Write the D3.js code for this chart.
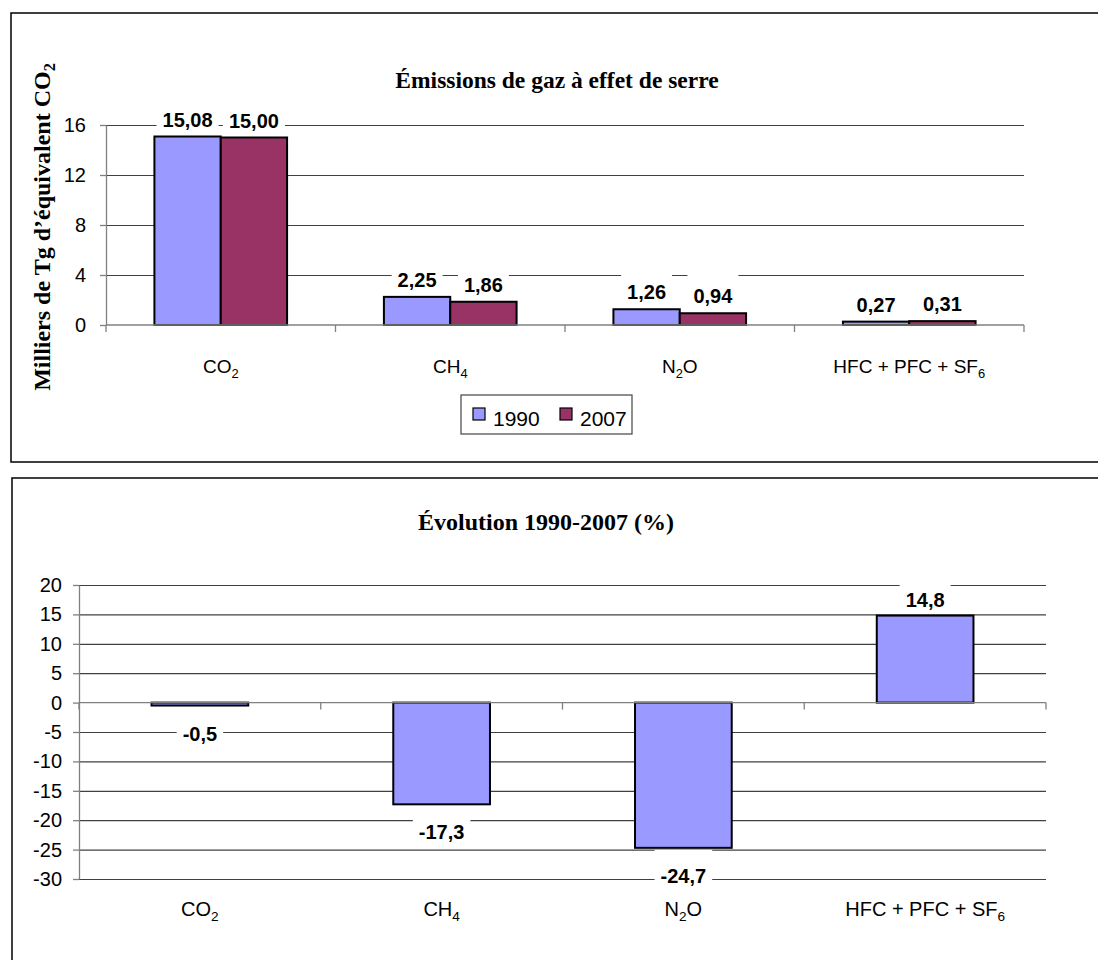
<!DOCTYPE html>
<html lang="fr">
<head>
  <meta charset="UTF-8">
  <script src="https://cdn.jsdelivr.net/npm/d3@7"></script>
  <style>
    body { margin: 0; background: #fff; }
  </style>
</head>
<body>

<div id="container"></div>
<script>

// Data
const categories = ["CO2", "CH4", "N2O", "HFC + PFC + SF6"];
const years = ["1990", "2007"];
const values1990 = [15.08, 2.25, 1.26, 0.27];
const values2007 = [15.00, 1.86, 0.94, 0.31];
const evolution = [-0.5, -17.3, -24.7, 14.8];
const topTicks = [0, 4, 8, 12, 16];
const bottomTicks = [-30, -25, -20, -15, -10, -5, 0, 5, 10, 15, 20];
const seriesColors = ["#9999ff", "#993366"];

const width = 1098;
const height = 960;
const sans = "'Liberation Sans', Arial, sans-serif";
const serif = "'Liberation Serif', 'Times New Roman', serif";
const gridColor = "#404040";
const axisColor = "#808080";

// french decimals
const fr = d3.formatLocale({decimal: ",", thousands: " ", grouping: [3], currency: ["", " €"], minus: "-"});
const fmt2 = fr.format(".2f");
const fmt1 = fr.format(".1f");

const svg = d3.select("#container").append("svg")
    .attr("width", width)
    .attr("height", height)
    .style("background", "#fff");

// writes "CO2" as CO + subscript 2
function chem(text, str) {
    const parts = str.split(/(\d+)/).filter(p => p !== "");
    let shifted = false;
    parts.forEach(p => {
        if (/^\d+$/.test(p)) {
            text.append("tspan").attr("font-size", "0.68em").attr("dy", 5).text(p);
            shifted = true;
        } else {
            text.append("tspan").attr("dy", shifted ? -5 : 0).text(p);
            shifted = false;
        }
    });
}

// value label with a white box behind it (masks the gridlines)
function valueLabel(boxes, labels, cx, baseline, txt, boxTop) {
    const t = labels.append("text")
        .attr("x", cx)
        .attr("y", baseline)
        .attr("text-anchor", "middle")
        .attr("font-family", sans)
        .attr("font-weight", "bold")
        .attr("font-size", 20)
        .attr("fill", "#000")
        .text(txt);
    const w = t.node().getComputedTextLength();
    boxes.append("rect")
        .attr("x", cx - w / 2 - 6)
        .attr("y", baseline - boxTop)
        .attr("width", w + 12)
        .attr("height", boxTop + 7)
        .attr("fill", "#fff");
}

function styleAxis(g) {
    g.select(".domain").attr("stroke", axisColor).attr("stroke-width", 1.3);
    g.selectAll(".tick line").attr("stroke", axisColor).attr("stroke-width", 1.3);
    g.selectAll(".tick text")
        .attr("font-family", sans)
        .attr("font-size", 20)
        .attr("fill", "#000");
}

// ---------- panels ----------
svg.append("rect")
    .attr("x", 11).attr("y", 13)
    .attr("width", 1100).attr("height", 449)
    .attr("fill", "none").attr("stroke", "#000").attr("stroke-width", 1.5);

svg.append("rect")
    .attr("x", 12).attr("y", 478)
    .attr("width", 1100).attr("height", 520)
    .attr("fill", "none").attr("stroke", "#000").attr("stroke-width", 1.5);

// ---------- top chart: emissions ----------
const x = d3.scaleBand().domain(categories).range([106, 1024]);
const xYear = d3.scaleBand().domain(years).range([0, x.bandwidth()]).paddingOuter(0.73);
const y = d3.scaleLinear().domain([0, 16]).range([325, 125]);

const topChart = svg.append("g");

// gridlines
topChart.append("g")
    .attr("transform", "translate(106,0)")
    .call(d3.axisLeft(y).tickValues(topTicks.filter(d => d !== 0)).tickSize(-(1024 - 106)).tickFormat(""))
    .call(g => g.select(".domain").remove())
    .call(g => g.selectAll(".tick line").attr("stroke", gridColor).attr("stroke-width", 1.2));

const topBoxes = topChart.append("g");
const topBars = topChart.append("g");
const topAxes = topChart.append("g");
const topLabels = topChart.append("g");

const topData = categories.map((c, i) => ({cat: c, vals: [values1990[i], values2007[i]]}));

topData.forEach(d => {
    d.vals.forEach((v, j) => {
        const bx = x(d.cat) + xYear(years[j]);
        topBars.append("rect")
            .attr("x", bx)
            .attr("y", y(v))
            .attr("width", xYear.bandwidth())
            .attr("height", y(0) - y(v))
            .attr("fill", seriesColors[j])
            .attr("stroke", "#000")
            .attr("stroke-width", 2);
        valueLabel(topBoxes, topLabels, bx + xYear.bandwidth() / 2, y(v) - 10, fmt2(v), 31);
    });
});

// y axis
topAxes.append("g")
    .attr("transform", "translate(106,0)")
    .call(d3.axisLeft(y).tickValues(topTicks).tickSize(6).tickSizeOuter(0).tickPadding(14).tickFormat(d => d))
    .call(styleAxis);

// x axis line with ticks between categories
topAxes.append("line")
    .attr("x1", 106).attr("x2", 1024)
    .attr("y1", y(0)).attr("y2", y(0))
    .attr("stroke", axisColor).attr("stroke-width", 1.3);
d3.range(categories.length + 1).forEach(i => {
    const tx = x.range()[0] + i * x.step();
    topAxes.append("line")
        .attr("x1", tx).attr("x2", tx)
        .attr("y1", y(0)).attr("y2", y(0) + 7)
        .attr("stroke", axisColor).attr("stroke-width", 1.3);
});

categories.forEach(c => {
    const t = topChart.append("text")
        .attr("x", x(c) + x.bandwidth() / 2)
        .attr("y", 373)
        .attr("text-anchor", "middle")
        .attr("font-family", sans)
        .attr("font-size", 19);
    chem(t, c);
});

topChart.append("text")
    .attr("x", 557).attr("y", 88)
    .attr("text-anchor", "middle")
    .attr("font-family", serif)
    .attr("font-weight", "bold")
    .attr("font-size", 23.5)
    .text("Émissions de gaz à effet de serre");

const yLab = topChart.append("text")
    .attr("transform", "translate(50,227) rotate(-90)")
    .attr("text-anchor", "middle")
    .attr("font-family", serif)
    .attr("font-weight", "bold")
    .attr("font-size", 24);
chem(yLab, "Milliers de Tg d’équivalent CO2");

// legend
const legend = topChart.append("g");
legend.append("rect")
    .attr("x", 461).attr("y", 395)
    .attr("width", 171).attr("height", 39)
    .attr("fill", "#fff").attr("stroke", "#444").attr("stroke-width", 1.2);
years.forEach((yr, j) => {
    const lx = [473, 560][j];
    legend.append("rect")
        .attr("x", lx).attr("y", 408)
        .attr("width", 12).attr("height", 12)
        .attr("fill", seriesColors[j]).attr("stroke", "#000").attr("stroke-width", 1.2);
    legend.append("text")
        .attr("x", lx + 20).attr("y", 426)
        .attr("font-family", sans)
        .attr("font-size", 21)
        .text(yr);
});

// ---------- bottom chart: evolution ----------
const xb = d3.scaleBand().domain(categories).range([79, 1046]).paddingInner(0.6).paddingOuter(0.3);
const yb = d3.scaleLinear().domain([-30, 20]).range([879, 585]);

const bottomChart = svg.append("g");

bottomChart.append("g")
    .attr("transform", "translate(79,0)")
    .call(d3.axisLeft(yb).tickValues(bottomTicks.filter(d => d !== 0)).tickSize(-(1046 - 79)).tickFormat(""))
    .call(g => g.select(".domain").remove())
    .call(g => g.selectAll(".tick line").attr("stroke", gridColor).attr("stroke-width", 1.2));

const botBoxes = bottomChart.append("g");
const botBars = bottomChart.append("g");
const botAxes = bottomChart.append("g");
const botLabels = bottomChart.append("g");

categories.forEach((c, i) => {
    const v = evolution[i];
    botBars.append("rect")
        .attr("x", xb(c))
        .attr("y", yb(Math.max(0, v)))
        .attr("width", xb.bandwidth())
        .attr("height", Math.abs(yb(v) - yb(0)))
        .attr("fill", seriesColors[0])
        .attr("stroke", "#000")
        .attr("stroke-width", 2);
    const base = v >= 0 ? yb(v) - 9 : yb(v) + 35;
    valueLabel(botBoxes, botLabels, xb(c) + xb.bandwidth() / 2, base, fmt1(v), 33);
});

botAxes.append("g")
    .attr("transform", "translate(79,0)")
    .call(d3.axisLeft(yb).tickValues(bottomTicks).tickSize(6).tickSizeOuter(0).tickPadding(11).tickFormat(d => d))
    .call(styleAxis);

botAxes.append("line")
    .attr("x1", 79).attr("x2", 1046)
    .attr("y1", yb(0)).attr("y2", yb(0))
    .attr("stroke", axisColor).attr("stroke-width", 1.3);
d3.range(categories.length + 1).forEach(i => {
    const tx = 79 + i * xb.step();
    botAxes.append("line")
        .attr("x1", tx).attr("x2", tx)
        .attr("y1", yb(0)).attr("y2", yb(0) + 7)
        .attr("stroke", axisColor).attr("stroke-width", 1.3);
});

categories.forEach(c => {
    const t = bottomChart.append("text")
        .attr("x", xb(c) + xb.bandwidth() / 2)
        .attr("y", 916)
        .attr("text-anchor", "middle")
        .attr("font-family", sans)
        .attr("font-size", 20);
    chem(t, c);
});

bottomChart.append("text")
    .attr("x", 546).attr("y", 530)
    .attr("text-anchor", "middle")
    .attr("font-family", serif)
    .attr("font-weight", "bold")
    .attr("font-size", 24)
    .text("Évolution 1990-2007 (%)");

</script>
</body>
</html>
